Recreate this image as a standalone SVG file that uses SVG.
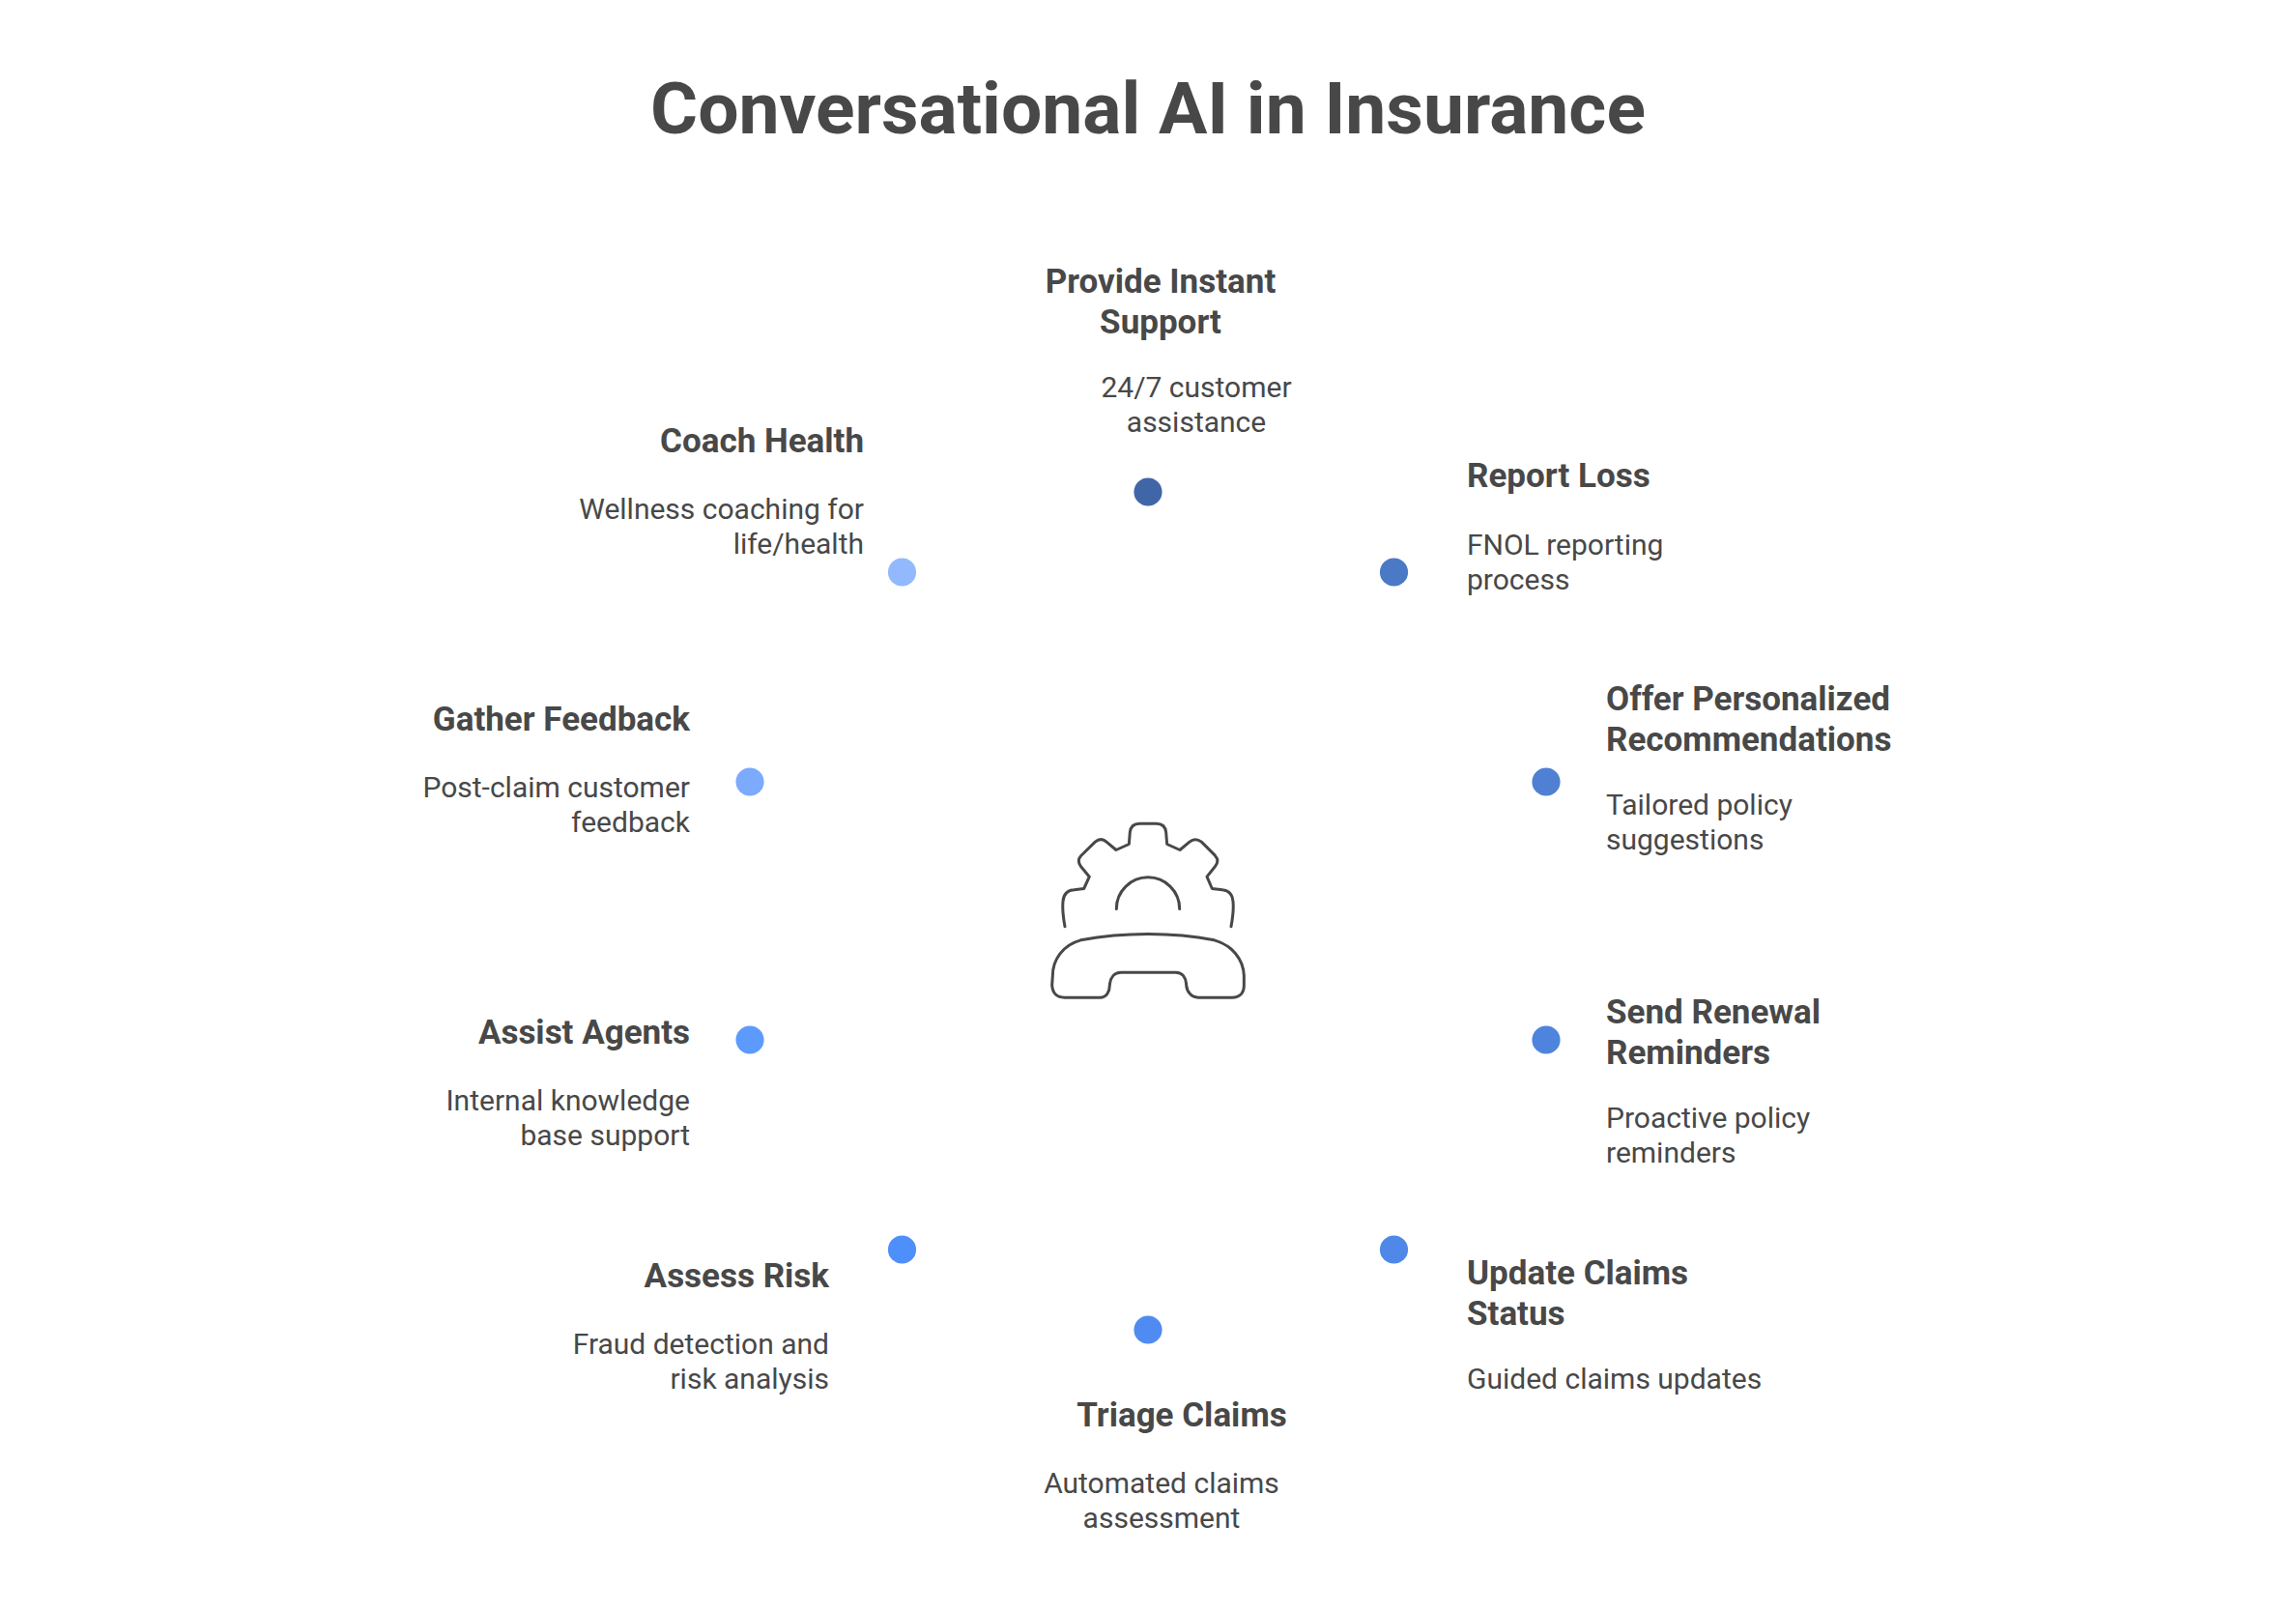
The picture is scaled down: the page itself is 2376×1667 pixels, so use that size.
<svg xmlns="http://www.w3.org/2000/svg" width="2376" height="1667" viewBox="0 0 2376 1667">
<style>
text{font-family:Roboto,"Liberation Sans",sans-serif;fill:#484848}
.t{font-size:75px;font-weight:700;text-anchor:middle}
.h{font-size:35px;font-weight:700}
.d{font-size:30px;font-weight:400}
.m{text-anchor:middle}.e{text-anchor:end}
.ic{fill:none;stroke:#484848;stroke-width:9;stroke-linecap:round;stroke-linejoin:round}
</style>
<rect width="2376" height="1667" fill="#fff"/>
<text class="t" x="1188" y="138">Conversational AI in Insurance</text>
<g id="icon" transform="translate(1040 819.5) scale(.33333)">
<path class="ic" d="M186,418C180,385 178,360 180,340C182,315 195,305 215,304L245,300L262,263L236,232C227,220 227,208 236,198L280,155C292,145 304,145 315,155L345,180L385,162L388,125C390,106 400,98 418,98L470,98C488,98 498,106 500,125L503,162L543,180L573,155C585,145 597,145 610,155L652,197C662,208 662,220 652,232L627,263L643,300L675,304C695,306 706,316 708,340C710,360 708,385 702,418"/>
<path class="ic" d="M346,363A98,98 0 0 1 542,363"/>
<path class="ic" d="M235,460C180,475 148,520 148,570L146,600C148,625 162,638 185,638L295,638C315,638 325,620 325,600C327,575 340,560 360,560L530,560C550,560 562,575 563,600C565,620 578,638 600,638L705,638C728,638 742,625 742,600L742,570C740,520 705,475 650,460C520,435 370,435 235,460Z"/>
</g>
<g id="connectors"></g>
<g id="n1"><circle cx="1188" cy="509" r="14.6" fill="#4166a8"/><text class="h m" x="1201" y="303">Provide Instant</text><text class="h m" x="1201" y="345">Support</text><text class="d m" x="1238" y="411">24/7 customer</text><text class="d m" x="1238" y="447">assistance</text></g>
<g id="n2"><circle cx="1442.5" cy="592" r="14.6" fill="#4a79c6"/><text class="h" x="1518" y="504">Report Loss</text><text class="d" x="1518" y="574">FNOL reporting</text><text class="d" x="1518" y="610">process</text></g>
<g id="n3"><circle cx="1600" cy="809" r="14.6" fill="#4f80d4"/><text class="h" x="1662" y="735">Offer Personalized</text><text class="h" x="1662" y="777">Recommendations</text><text class="d" x="1662" y="843">Tailored policy</text><text class="d" x="1662" y="879">suggestions</text></g>
<g id="n4"><circle cx="1600" cy="1076" r="14.6" fill="#4f84de"/><text class="h" x="1662" y="1059">Send Renewal</text><text class="h" x="1662" y="1101">Reminders</text><text class="d" x="1662" y="1167">Proactive policy</text><text class="d" x="1662" y="1203">reminders</text></g>
<g id="n5"><circle cx="1442.5" cy="1293" r="14.6" fill="#4f88e8"/><text class="h" x="1518" y="1329">Update Claims</text><text class="h" x="1518" y="1371">Status</text><text class="d" x="1518" y="1437">Guided claims updates</text></g>
<g id="n6"><circle cx="1188" cy="1376" r="14.6" fill="#4f8bf1"/><text class="h m" x="1223" y="1476">Triage Claims</text><text class="d m" x="1202" y="1545">Automated claims</text><text class="d m" x="1202" y="1581">assessment</text></g>
<g id="n7"><circle cx="933.5" cy="1293" r="14.6" fill="#4f8ffb"/><text class="h e" x="858" y="1332">Assess Risk</text><text class="d e" x="858" y="1401">Fraud detection and</text><text class="d e" x="858" y="1437">risk analysis</text></g>
<g id="n8"><circle cx="776" cy="1076" r="14.6" fill="#5c9bfd"/><text class="h e" x="714" y="1080">Assist Agents</text><text class="d e" x="714" y="1149">Internal knowledge</text><text class="d e" x="714" y="1185">base support</text></g>
<g id="n9"><circle cx="776" cy="809" r="14.6" fill="#7caafc"/><text class="h e" x="714" y="756">Gather Feedback</text><text class="d e" x="714" y="825">Post-claim customer</text><text class="d e" x="714" y="861">feedback</text></g>
<g id="n10"><circle cx="933.5" cy="592" r="14.6" fill="#92b9fd"/><text class="h e" x="894" y="468">Coach Health</text><text class="d e" x="894" y="537">Wellness coaching for</text><text class="d e" x="894" y="573">life/health</text></g>
</svg>
